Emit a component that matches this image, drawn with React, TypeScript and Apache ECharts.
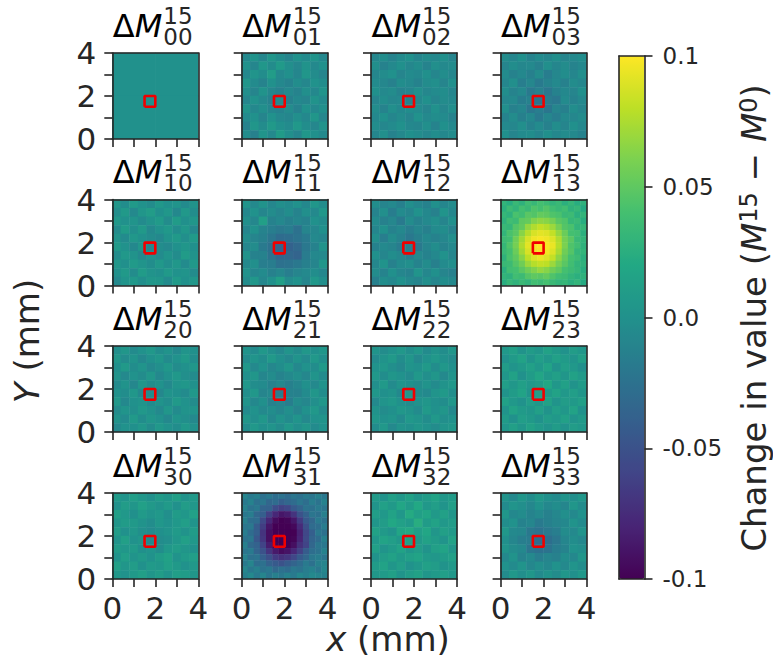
import React, { useEffect, useRef } from "react";
import * as echarts from "echarts";

const viridis = ["#440154","#482475","#414487","#355f8d","#2a788e","#21918c","#22a884","#44bf70","#7ad151","#bddf26","#fde725"];
const tickValues = [0, 2, 4];
const colorbarTicks = ["-0.1", "-0.05", "0.0", "0.05", "0.1"];
const redBox = [[1.5,1.5],[2,1.5],[2,2],[1.5,2],[1.5,1.5]];

// Cell values, unit 0.001, top row first
const m00 = [[0,0],[0,0]];
const m01 = [
[-6,2,-8,4,-3,-10,1,-5,3,-7],
[1,-9,5,-4,8,-2,-8,2,-6,0],
[-7,3,-3,10,-6,-1,-9,4,-4,-10],
[4,-5,-11,0,-7,-12,-3,-8,1,-3],
[-2,-10,2,-8,-13,-6,-11,-2,-7,3],
[-8,1,-6,-12,-5,-14,-7,-10,2,-5],
[3,-7,-2,-9,-11,-4,-12,0,-6,-1],
[-5,0,-10,1,-6,-9,-2,-7,4,-8],
[-12,4,-4,7,-1,-5,6,-3,-8,2],
[-3,-14,3,-6,9,-2,-9,5,-1,-6]];
const m02 = [
[-8,-3,-11,-5,0,-9,-4,-7,-1,-10],
[-2,-12,-6,-1,-8,-3,-11,-2,-6,-4],
[-9,-4,0,-10,-5,-7,-1,-9,-3,-8],
[-5,-8,-13,-3,-6,-12,-4,-2,-10,-1],
[-1,-6,-4,-11,-9,-2,-8,-5,-3,-9],
[-10,-3,-8,-6,-12,-7,-1,-9,-4,-6],
[-4,-11,-2,-7,-3,-5,-10,0,-8,-2],
[-7,-1,-9,-4,-10,1,-6,-3,-5,-11],
[-3,-8,-5,0,-7,-9,-2,-11,-1,-6],
[-9,-2,-12,-6,-1,-4,-8,-3,-7,-4]];
const m03 = [
[-4,-9,-1,-11,-5,-8,-2,-10,-6,-3],
[-10,-3,-8,-6,-13,-2,-9,-4,-11,-7],
[-5,-12,-7,-14,-4,-16,-8,-3,-9,-2],
[-9,-2,-15,-8,-18,-11,-6,-13,-4,-8],
[-3,-11,-6,-19,-13,-21,-12,-7,-10,-1],
[-8,-6,-16,-12,-24,-17,-20,-5,-12,-6],
[-2,-13,-9,-21,-15,-22,-10,-14,-3,-9],
[-11,-4,-14,-7,-18,-9,-15,-6,-8,-4],
[-6,-8,-2,-12,-5,-13,-3,-10,-1,-7],
[-1,-10,-5,-3,-9,-1,-7,-4,-6,-12]];
const m10 = [
[5,-3,8,1,-4,6,0,3,-5,2],
[-2,7,-6,4,10,-1,5,-7,6,-3],
[6,0,3,-5,2,8,-4,9,-1,4],
[-4,9,-2,7,-6,1,6,-3,5,-6],
[3,-5,5,0,-4,-7,2,7,-2,8],
[8,1,-7,4,-8,-3,-6,0,4,-1],
[-3,6,2,-6,1,-5,3,-4,9,2],
[5,-1,8,3,-3,6,-2,5,-5,6],
[0,7,-4,9,2,-1,7,1,3,-4],
[-6,3,6,-2,5,4,-5,8,0,5]];
const m11 = [
[3,-6,2,-8,-2,-5,1,-7,4,-3],
[-7,1,-9,-4,-10,-3,-11,-2,-6,5],
[-2,-8,12,-12,-7,-14,-9,-12,0,-4],
[-9,0,-11,-15,-19,-16,-26,-10,-8,-1],
[-3,-10,-14,-22,-30,-28,-24,-18,-6,-9],
[-8,-4,-18,-26,-36,-38,-32,-20,-12,2],
[2,-12,-12,-24,-34,-33,-36,-17,-7,-6],
[-6,-2,-15,-16,-26,-24,-20,-14,-10,4],
[1,-9,-5,-13,-8,-15,-10,-6,-3,-8],
[-4,5,-8,0,12,-4,1,-9,6,-2]];
const m12 = [
[-3,-10,-6,-14,-2,-8,-12,-1,-9,-4],
[-11,-2,-16,-5,-10,1,-7,-13,3,-8],
[-5,-13,-8,-18,-4,-12,-6,-2,-10,-1],
[-9,-1,-12,-7,-15,-9,-14,-5,-3,-11],
[-2,-15,-4,-11,-20,-14,-7,-12,-8,-2],
[-12,-6,-10,-17,-13,-19,-10,-3,-11,-6],
[-1,-9,-3,-8,-15,-6,-12,-7,1,-9],
[-8,2,-13,-5,-2,-11,-4,-14,-5,-2],
[-4,-11,-1,-9,-12,3,-8,-1,-10,-13],
[-14,-3,-7,0,-6,-10,-2,-9,-3,-6]];
const m13 = [
[30,24,34,28,38,33,40,36,30,34,26,32,24,28],
[26,36,30,40,35,44,40,46,38,34,38,28,32,22],
[32,28,42,38,48,45,52,50,44,42,34,36,26,30],
[28,38,36,50,52,62,66,64,58,48,44,32,34,24],
[34,32,46,52,68,76,82,78,70,58,46,42,30,32],
[30,42,48,64,78,88,92,90,82,68,54,40,38,26],
[36,38,56,72,88,96,98,96,90,76,58,48,34,30],
[32,44,58,76,92,98,100,98,94,78,60,44,38,28],
[34,40,54,72,88,96,98,97,90,74,56,46,32,30],
[28,42,50,64,80,90,94,90,82,66,52,40,36,26],
[34,36,46,56,70,78,82,80,70,58,48,38,30,28],
[26,38,40,48,56,62,68,64,56,50,40,36,32,24],
[30,28,38,36,46,50,48,52,44,38,36,30,26,28],
[24,32,28,34,30,38,36,40,34,30,32,26,30,22]];
const m20 = [
[-2,4,-5,1,6,-3,2,-6,3,-1],
[5,-4,2,-7,0,4,-5,1,7,-3],
[-1,7,-3,3,-6,-2,5,-4,0,4],
[3,-6,1,-4,5,-7,0,6,-2,-5],
[-5,2,-8,4,-3,1,-6,3,5,0],
[1,-3,5,-6,-4,-8,2,-1,-5,6],
[6,-7,0,3,-5,2,-3,7,1,-4],
[-4,3,-2,6,1,-6,4,-5,2,3],
[2,-5,7,-3,4,0,-7,3,-2,-6],
[-6,1,-1,5,-4,6,1,-3,6,0]];
const m21 = [
[2,-5,6,-2,-7,3,-4,5,-1,4],
[-4,3,-3,7,-1,-6,2,-5,6,-2],
[5,-6,1,-8,-3,4,-7,1,-3,7],
[-1,4,-9,-4,-11,-6,-2,-8,3,-5],
[6,-3,-5,-12,-7,-14,-9,-1,-6,2],
[-2,5,-10,-6,-16,-12,-13,-5,4,-3],
[3,-7,-1,-13,-10,-15,-4,-8,-2,5],
[-5,1,-6,-3,-9,-2,-10,0,6,-4],
[4,-2,5,-7,2,-5,3,-6,1,3],
[-3,6,-1,3,-4,6,-2,4,-5,1]];
const m22 = [
[3,-4,1,6,-2,5,-5,2,-3,4],
[-5,2,7,-3,4,-6,1,6,0,-4],
[1,5,-2,-6,3,0,7,-3,5,-1],
[6,-3,4,1,-5,6,-2,4,-6,3],
[-2,7,-5,3,-1,-4,2,-5,2,6],
[4,-1,2,-7,5,-3,-6,3,7,-2],
[-6,3,6,0,-4,1,4,-1,-3,5],
[2,-4,-1,5,2,-5,7,0,4,-6],
[5,0,3,-5,6,3,-3,6,-2,1],
[-3,6,-6,2,-1,4,1,-4,3,5]];
const m23 = [
[6,12,2,9,4,14,7,1,10,5],
[1,8,15,3,11,5,13,8,3,12],
[10,3,7,13,6,16,2,11,6,-1],
[4,14,0,9,17,7,12,4,14,8],
[11,5,12,6,10,19,5,13,2,9],
[2,9,16,3,13,8,15,6,11,4],
[13,6,1,11,5,14,3,10,7,12],
[3,15,8,4,12,2,11,5,15,1],
[9,0,11,7,1,10,6,13,3,8],
[5,12,4,14,8,3,9,2,10,6]];
const m30 = [
[8,3,11,5,0,9,4,12,2,7],
[1,10,4,13,7,2,8,0,10,5],
[12,6,-1,8,3,6,-2,9,5,13],
[4,9,7,2,-3,5,1,6,11,3],
[10,0,5,-2,-5,-1,3,8,2,9],
[3,12,1,4,-6,-4,-2,5,12,6],
[9,5,8,-1,3,-3,6,10,4,1],
[2,11,3,7,1,9,14,2,8,11],
[13,4,10,0,8,5,12,7,1,6],
[6,1,7,12,4,10,3,11,9,4]];
const m31 = [
[-10,-18,-14,-26,-20,-28,-24,-30,-22,-26,-18,-22,-14,-20],
[-18,-12,-26,-22,-34,-30,-40,-34,-30,-22,-28,-16,-24,-12],
[-12,-24,-20,-36,-38,-54,-62,-58,-44,-36,-24,-26,-18,-22],
[-20,-16,-34,-40,-62,-78,-88,-84,-70,-50,-38,-22,-26,-14],
[-14,-28,-30,-56,-78,-94,-100,-98,-88,-66,-44,-34,-18,-24],
[-22,-20,-42,-64,-88,-100,-100,-100,-96,-76,-52,-30,-28,-16],
[-16,-30,-40,-70,-92,-100,-100,-100,-100,-82,-58,-40,-20,-26],
[-24,-22,-46,-68,-92,-100,-100,-100,-98,-80,-56,-36,-30,-14],
[-14,-32,-38,-60,-84,-98,-100,-100,-92,-72,-60,-34,-22,-20],
[-22,-18,-36,-50,-70,-86,-94,-90,-78,-62,-42,-28,-24,-12],
[-12,-26,-24,-40,-52,-66,-72,-68,-58,-44,-34,-20,-16,-22],
[-18,-10,-28,-26,-38,-44,-50,-42,-36,-30,-18,-26,-14,-10],
[-8,-20,-14,-24,-20,-32,-26,-30,-20,-24,-16,-12,-20,-8],
[-14,-6,-18,-10,-22,-14,-20,-12,-18,-8,-14,-6,-10,-12]];
const m32 = [
[8,2,12,6,14,4,10,16,5,9],
[3,13,7,18,9,20,6,11,3,12],
[11,6,15,5,22,12,17,7,13,4],
[4,10,19,13,8,24,9,15,6,10],
[14,7,2,17,21,11,18,4,12,8],
[6,16,11,5,13,7,14,9,3,15],
[12,3,8,15,4,10,2,12,16,5],
[2,10,14,7,12,16,8,5,9,13],
[9,15,4,11,1,6,13,10,2,7],
[5,8,12,3,10,14,4,7,11,6]];
const m33 = [
[2,-6,4,-3,6,-1,-5,3,-2,5],
[-5,3,-2,-8,1,-7,-3,-9,4,-4],
[4,-7,-4,-11,-6,-13,-8,-2,-6,1],
[-3,1,-12,-9,-18,-14,-10,-7,2,-5],
[5,-6,-8,-20,-24,-19,-15,-4,-6,3],
[-1,-9,-15,-17,-30,-28,-21,-9,-3,-7],
[3,-4,-7,-22,-26,-24,-16,-11,1,-2],
[-6,2,-11,-6,-15,-10,-13,-3,-7,4],
[1,-5,3,-8,-2,-7,1,-6,3,-3],
[-4,6,-2,4,-5,2,-4,5,-1,6]];

const panels = [m00,m01,m02,m03,m10,m11,m12,m13,m20,m21,m22,m23,m30,m31,m32,m33];
const panelLabels = ["00","01","02","03","10","11","12","13","20","21","22","23","30","31","32","33"];
const rowTops = [53, 199.6, 346, 493];
const colLefts = [112.3, 241.7, 371, 500.6];
const PANEL = 86;
const INK = "#262626";
const FONT = "DejaVu Sans";

export default function App() {
  const ref = useRef<HTMLDivElement>(null);
  useEffect(() => {
    const chart = echarts.init(ref.current!, null, { renderer: "svg" });
    const grid: any[] = [], xAxis: any[] = [], yAxis: any[] = [], series: any[] = [], graphic: any[] = [];
    const line = { show: true, onZero: false, lineStyle: { color: INK, width: 1.6 } };
    const tick = { show: true, length: 8, lineStyle: { color: INK, width: 1.6 } };
    panels.forEach((cells, i) => {
      const r = Math.floor(i / 4), c = i % 4;
      const left = colLefts[c], top = rowTops[r];
      grid.push({ left, top, width: PANEL, height: PANEL });
      const ids = cells.map((_, k) => String(k));
      const axX = xAxis.length, axY = yAxis.length;
      xAxis.push({ type: "category", gridIndex: i, data: ids, position: "top", z: 6, axisLine: line, axisTick: { show: false }, axisLabel: { show: false }, splitLine: { show: false } });
      yAxis.push({ type: "category", gridIndex: i, data: ids, position: "right", inverse: true, z: 6, axisLine: line, axisTick: { show: false }, axisLabel: { show: false }, splitLine: { show: false } });
      const fmt = (v: number) => (tickValues.includes(v) ? String(v) : "");
      xAxis.push({ type: "value", gridIndex: i, min: 0, max: 4, interval: 1, position: "bottom", z: 6, axisLine: line,
        axisTick: tick, splitLine: { show: false },
        axisLabel: { show: r === 3, formatter: fmt, fontSize: 31, color: INK, fontFamily: FONT, margin: 13 } });
      yAxis.push({ type: "value", gridIndex: i, min: 0, max: 4, interval: 1, position: "left", z: 6, axisLine: line,
        axisTick: tick, splitLine: { show: false },
        axisLabel: { show: c === 0, formatter: fmt, fontSize: 31, color: INK, fontFamily: FONT, margin: 16 } });
      const data: number[][] = [];
      cells.forEach((row, ry) => row.forEach((v, cx) => data.push([cx, ry, v / 1000])));
      series.push({ type: "heatmap", xAxisIndex: axX, yAxisIndex: axY, data, z: 1, itemStyle: { borderWidth: 0 }, emphasis: { disabled: true } });
      graphic.push({ type: "text", x: left + 0.5, y: top - 27.5, style: { text: "{d|Δ}{m|M}", align: "left", verticalAlign: "middle", rich: { d: { fontSize: 32, fontFamily: FONT, color: INK }, m: { fontSize: 32, fontFamily: FONT, fontStyle: "italic", color: INK } } } });
      graphic.push({ type: "text", x: left + 51, y: top - 37, style: { text: "15", fontSize: 23, fontFamily: FONT, fill: INK, align: "left", verticalAlign: "middle" } });
      graphic.push({ type: "text", x: left + 51, y: top - 16.5, style: { text: panelLabels[i], fontSize: 23, fontFamily: FONT, fill: INK, align: "left", verticalAlign: "middle" } });
    });
    // red boxes drawn after the heatmaps
    panels.forEach((_, i) => {
      series.push({ type: "line", xAxisIndex: i * 2 + 1, yAxisIndex: i * 2 + 1, data: redBox, symbol: "none", z: 5, silent: true, lineStyle: { color: "#f00000", width: 2.6 }, clip: false });
    });
    // colour bar frame
    const cbIndex = panels.length;
    const barTop = 56, barH = 523, barLeft = 619, barW = 25.5;
    grid.push({ left: barLeft, top: barTop, width: barW, height: barH });
    xAxis.push({ type: "value", gridIndex: cbIndex, min: 0, max: 1, position: "top", z: 10, axisLine: line, axisTick: { show: false }, axisLabel: { show: false }, splitLine: { show: false } });
    xAxis.push({ type: "value", gridIndex: cbIndex, min: 0, max: 1, position: "bottom", z: 10, axisLine: line, axisTick: { show: false }, axisLabel: { show: false }, splitLine: { show: false } });
    yAxis.push({ type: "value", gridIndex: cbIndex, min: -0.1, max: 0.1, position: "left", z: 10, axisLine: line, axisTick: { show: false }, axisLabel: { show: false }, splitLine: { show: false } });
    yAxis.push({ type: "value", gridIndex: cbIndex, min: -0.1, max: 0.1, interval: 0.05, position: "right", z: 10, axisLine: line,
      axisTick: tick, splitLine: { show: false },
      axisLabel: { fontSize: 23, color: INK, fontFamily: FONT, margin: 18, formatter: (_: number, idx: number) => colorbarTicks[idx] } });

    graphic.push({ type: "text", x: 27, y: 341, rotation: Math.PI / 2, style: { text: "{i|Y} (mm)", align: "center", verticalAlign: "middle", fontSize: 34, fontFamily: FONT, fill: INK, rich: { i: { fontSize: 34, fontFamily: FONT, fontStyle: "italic", color: INK } } } });
    graphic.push({ type: "text", x: 388, y: 639, style: { text: "{i|x} (mm)", align: "center", verticalAlign: "middle", fontSize: 34, fontFamily: FONT, fill: INK, rich: { i: { fontSize: 34, fontFamily: FONT, fontStyle: "italic", color: INK } } } });
    graphic.push({ type: "text", x: 754, y: 318, rotation: Math.PI / 2, style: { text: "Change in value ({i|M}{s|15} − {i|M}{s|0})", align: "center", verticalAlign: "middle", fontSize: 34, fontFamily: FONT, fill: INK, rich: { i: { fontSize: 34, fontFamily: FONT, fontStyle: "italic", color: INK, verticalAlign: "bottom" }, s: { fontSize: 24, fontFamily: FONT, color: INK, verticalAlign: "top" } } } });

    chart.setOption({
      animation: false,
      backgroundColor: "#ffffff",
      grid, xAxis, yAxis, series, graphic,
      visualMap: {
        type: "continuous", min: -0.1, max: 0.1, seriesIndex: panels.map((_, i) => i),
        left: barLeft, top: barTop, itemWidth: barW, itemHeight: barH, padding: 0,
        calculable: false, hoverLink: false, realtime: false, orient: "vertical", z: 4,
        inRange: { color: viridis }, showLabel: false,
      },
    });
    return () => chart.dispose();
  }, []);
  return <div ref={ref} style={{ width: 773, height: 658, position: "absolute", left: 0, top: 0 }} />;
}
